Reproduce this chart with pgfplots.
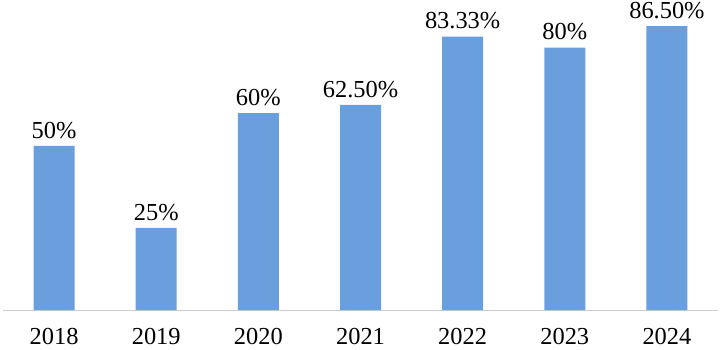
\documentclass[border=0pt]{standalone}
\usepackage{pgfplots}
\pgfplotsset{compat=1.18}
\usepackage{fontspec}
\setmainfont{Liberation Serif}
\definecolor{barblue}{RGB}{106,159,222}
\definecolor{axgray}{RGB}{205,205,205}
\begin{document}
\begin{tikzpicture}
\begin{axis}[
  scale only axis,
  width=715bp, height=310bp,
  xmin=-0.5, xmax=6.5,
  ymin=0, ymax=94.5,
  axis x line*=bottom,
  axis y line=none,
  x axis line style={draw=axgray, line width=1bp, -},
  xtick={0,...,6},
  xticklabels={2018,2019,2020,2021,2022,2023,2024},
  major tick length=0pt,
  xticklabel style={font=\fontsize{24.5}{28}\selectfont, yshift=-15bp},
  ybar, bar width=41bp,
  clip=false,
  point meta=explicit symbolic,
  nodes near coords,
  nodes near coords style={font=\fontsize{24.5}{28}\selectfont, text=black, yshift=4bp},
]
\addplot[fill=barblue, draw=none] table[x=x, y=y, meta=lab] {
x y lab
0 50 50\%
1 25 25\%
2 60 60\%
3 62.5 62.50\%
4 83.33 83.33\%
5 80 80\%
6 86.5 86.50\%
};
\end{axis}
\pgfresetboundingbox
\path (-3bp,-40bp) rectangle (717bp,310bp);
\end{tikzpicture}
\end{document}
